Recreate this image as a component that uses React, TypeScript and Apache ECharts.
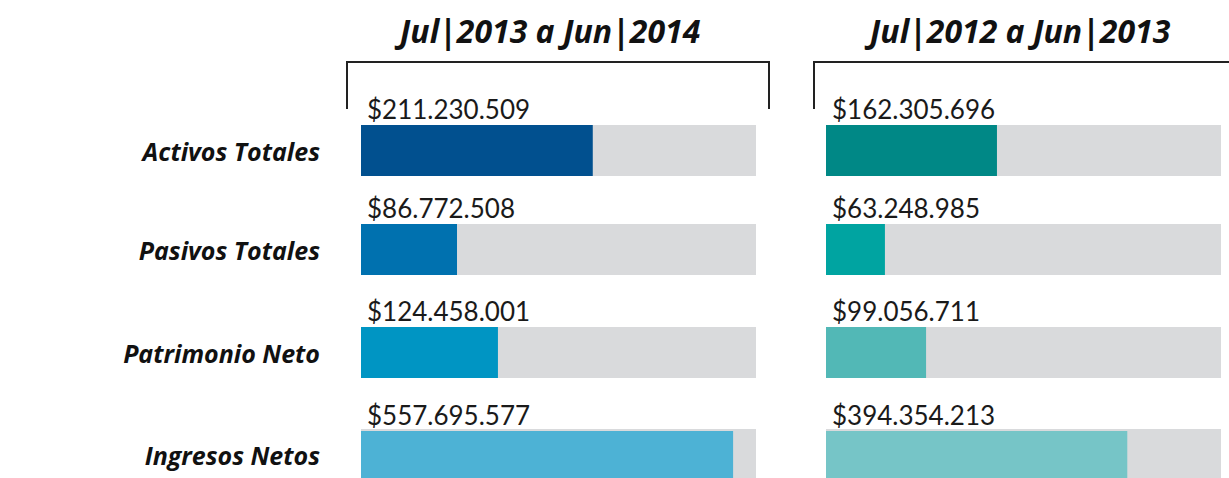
import React, { useEffect, useRef } from "react";
import * as echarts from "echarts";

const categories = ["Activos Totales", "Pasivos Totales", "Patrimonio Neto", "Ingresos Netos"];
const periodTitles = ["Jul|2013 a Jun|2014", "Jul|2012 a Jun|2013"];
const values2014 = [211230509, 86772508, 124458001, 557695577];
const values2013 = [162305696, 63248985, 99056711, 394354213];
// full-track value of each row's scale (the infographic scales each bar on its own)
const scaleMax2014 = [360000000, 357000000, 359000000, 592000000];
const scaleMax2013 = [375000000, 424000000, 391000000, 517000000];
const colors2014 = ["#01508F", "#0071AF", "#0095C3", "#4DB2D5"];
const colors2013 = ["#008886", "#00A4A1", "#52B8B6", "#76C5C7"];

const FONT = "Lato";
const BOLD_FONT = "Open Sans";
const TRACK = "#D9DADC";
const ROW_TOPS = [125, 224, 327, 431];
const ROW_H = 51;
const PANEL_LEFT = [361, 826];
const PANEL_W = 395;

function fmt(v: number): string {
  return "$" + String(v).replace(/\B(?=(\d{3})+(?!\d))/g, ".");
}

export default function App() {
  const ref = useRef<HTMLDivElement>(null);
  useEffect(() => {
    if (!ref.current) return;
    const chart = echarts.init(ref.current, undefined, { renderer: "svg" });
    const grids: any[] = [];
    const xAxes: any[] = [];
    const yAxes: any[] = [];
    const series: any[] = [];
    const panels = [
      { vals: values2014, max: scaleMax2014, cols: colors2014 },
      { vals: values2013, max: scaleMax2013, cols: colors2013 },
    ];
    panels.forEach((p, pi) => {
      categories.forEach((cat, ri) => {
        const idx = grids.length;
        grids.push({ left: PANEL_LEFT[pi], width: PANEL_W, top: ROW_TOPS[ri], height: ROW_H });
        xAxes.push({ type: "value", gridIndex: idx, min: 0, max: p.max[ri], show: false });
        yAxes.push({
          type: "category",
          gridIndex: idx,
          data: [cat],
          axisLine: { show: false },
          axisTick: { show: false },
          splitLine: { show: false },
          axisLabel: {
            show: pi === 0,
            margin: 41,
            fontFamily: BOLD_FONT,
            fontSize: 25,
            fontWeight: "bold",
            fontStyle: "italic",
            color: "#111",
          },
        });
        series.push({
          type: "bar",
          xAxisIndex: idx,
          yAxisIndex: idx,
          data: [p.vals[ri]],
          barWidth: ROW_H,
          showBackground: true,
          backgroundStyle: { color: TRACK },
          itemStyle: { color: p.cols[ri] },
          label: {
            show: true,
            position: [6, -3],
            align: "left",
            verticalAlign: "bottom",
            formatter: (prm: any) => fmt(prm.value),
            fontFamily: FONT,
            fontSize: 26,
            color: "#1a1a1a",
          },
          silent: true,
        });
      });
    });

    const titleStyle = {
      fontFamily: BOLD_FONT,
      fontSize: 32,
      fontWeight: "bold",
      fontStyle: "italic",
      fill: "#111",
      textAlign: "center",
      textVerticalAlign: "bottom",
    };

    chart.setOption({
      animation: false,
      backgroundColor: "#ffffff",
      grid: grids,
      xAxis: xAxes,
      yAxis: yAxes,
      series,
      graphic: [
        { type: "text", x: 550, y: 46, style: { ...titleStyle, text: periodTitles[0] } },
        { type: "text", x: 1020, y: 46, style: { ...titleStyle, text: periodTitles[1] } },
        {
          type: "polyline",
          shape: { points: [[347, 109], [347, 62], [769, 62], [769, 109]] },
          style: { stroke: "#222", lineWidth: 2, fill: null },
        },
        {
          type: "polyline",
          shape: { points: [[814, 109], [814, 62], [1229, 62]] },
          style: { stroke: "#222", lineWidth: 2, fill: null },
        },
      ],
    });
    return () => chart.dispose();
  }, []);
  return (
    <div
      ref={ref}
      style={{ position: "fixed", left: 0, top: 0, width: 1229, height: 478, background: "#fff" }}
    />
  );
}
